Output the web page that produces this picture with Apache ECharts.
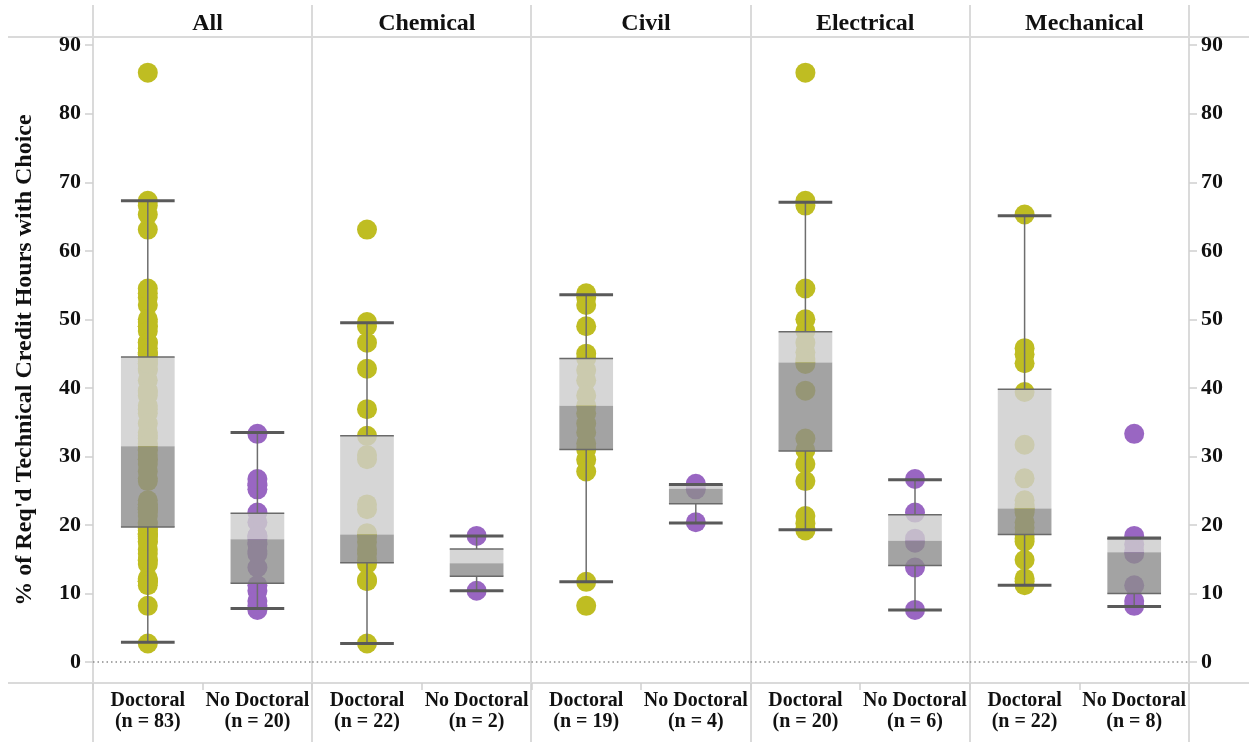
<!DOCTYPE html>
<html><head><meta charset="utf-8">
<script src="https://cdn.jsdelivr.net/npm/echarts@6/dist/echarts.min.js"></script>
<style>html,body{margin:0;padding:0;background:#fff}#c{width:1249px;height:742px}</style>
</head><body><div id="c"></div>
<script>
// ---- data ----
const panels = ['All', 'Chemical', 'Civil', 'Electrical', 'Mechanical'];
const groups = ['Doctoral', 'No Doctoral'];
const nDoctoral = [83, 22, 19, 20, 22];
const nNoDoctoral = [20, 2, 4, 6, 8];
const yTicks = [0, 10, 20, 30, 40, 50, 60, 70, 80, 90];
const yTitle = "% of Req'd Technical Credit Hours with Choice";

const chemDoc = [63.1, 49.6, 49.0, 46.6, 42.8, 36.9, 33.0, 30.2, 29.6, 23.0, 22.3, 18.8, 18.6, 18.3, 17.5, 16.4, 15.8, 14.8, 14.3, 12.0, 11.8, 2.7];
const chemNo = [18.4, 10.4];
const civilDoc = [53.8, 53.2, 52.1, 49.0, 45.0, 44.3, 42.6, 41.1, 38.9, 37.4, 36.3, 34.8, 33.5, 31.9, 31.0, 29.5, 27.8, 11.7, 8.2];
const civilNo = [26.0, 25.8, 25.2, 20.4];
const elecDoc = [86.0, 67.3, 66.6, 54.5, 50.0, 48.3, 46.6, 45.2, 44.2, 43.8, 43.5, 39.6, 32.6, 30.9, 28.9, 26.4, 21.3, 20.2, 19.5, 19.2];
const elecNo = [26.7, 21.8, 18.0, 17.4, 13.8, 7.6];
const mechDoc = [65.3, 45.8, 44.9, 43.6, 39.4, 31.7, 26.8, 23.6, 23.0, 22.6, 22.4, 22.2, 21.8, 20.4, 19.6, 18.6, 18.0, 17.6, 14.9, 12.2, 11.8, 11.2];
const mechNo = [33.3, 18.4, 17.2, 16.2, 15.8, 11.2, 8.9, 8.2];
const allDoc = [].concat(chemDoc, civilDoc, elecDoc, mechDoc);
const allNo = [].concat(chemNo, civilNo, elecNo, mechNo);

// box stats: [lower whisker, Q1, median, Q3, upper whisker]
const allDocBox = [2.9, 19.7, 31.5, 44.5, 67.3];
const allNoBox = [7.8, 11.5, 17.9, 21.7, 33.5];
const chemDocBox = [2.7, 14.5, 18.6, 33.0, 49.5];
const chemNoBox = [10.4, 12.5, 14.4, 16.5, 18.4];
const civilDocBox = [11.7, 31.0, 37.4, 44.3, 53.6];
const civilNoBox = [20.3, 23.1, 25.3, 25.8, 25.9];
const elecDocBox = [19.3, 30.8, 43.7, 48.2, 67.1];
const elecNoBox = [7.6, 14.1, 17.7, 21.5, 26.6];
const mechDocBox = [11.2, 18.6, 22.4, 39.8, 65.1];
const mechNoBox = [8.1, 10.0, 16.0, 18.0, 18.1];

const docPoints = [allDoc, chemDoc, civilDoc, elecDoc, mechDoc];
const noPoints = [allNo, chemNo, civilNo, elecNo, mechNo];
const docBoxes = [allDocBox, chemDocBox, civilDocBox, elecDocBox, mechDocBox];
const noBoxes = [allNoBox, chemNoBox, civilNoBox, elecNoBox, mechNoBox];

// ---- style / layout ----
const W = 1249, H = 742;
const plotL = 93, plotR = 1189, plotT = 37, plotB = 683;
const pw = (plotR - plotL) / panels.length;
const FONT = '"Liberation Serif", "Times New Roman", serif';
const TXT = '#111111';
const DOC_C = '#bfbd22';
const NO_C = '#9966c2';
const FRAME = '#dadada';

function renderBox(params, api) {
  const x = api.value(0);
  const pLow = api.coord([x, api.value(1)]);
  const pQ1 = api.coord([x, api.value(2)]);
  const pMed = api.coord([x, api.value(3)]);
  const pQ3 = api.coord([x, api.value(4)]);
  const pHigh = api.coord([x, api.value(5)]);
  const bw = api.size([1, 0])[0];
  const hw = bw * 0.245;
  const cx = pMed[0];
  const wl = {stroke: '#6e6e6e', lineWidth: 1.5};
  const el = {stroke: '#6a6a6a', lineWidth: 1.5};
  const cl = {stroke: '#5a5a5a', lineWidth: 3};
  return {type: 'group', children: [
    {type: 'line', shape: {x1: cx, y1: pHigh[1], x2: cx, y2: pQ3[1]}, style: wl},
    {type: 'line', shape: {x1: cx, y1: pQ1[1], x2: cx, y2: pLow[1]}, style: wl},
    {type: 'rect', shape: {x: cx - hw, y: pQ3[1], width: 2 * hw, height: pMed[1] - pQ3[1]}, style: {fill: 'rgba(205,205,205,0.82)'}},
    {type: 'rect', shape: {x: cx - hw, y: pMed[1], width: 2 * hw, height: pQ1[1] - pMed[1]}, style: {fill: 'rgba(140,140,140,0.8)'}},
    {type: 'line', shape: {x1: cx - hw, y1: pQ3[1], x2: cx + hw, y2: pQ3[1]}, style: el},
    {type: 'line', shape: {x1: cx - hw, y1: pQ1[1], x2: cx + hw, y2: pQ1[1]}, style: el},
    {type: 'line', shape: {x1: cx - hw, y1: pHigh[1], x2: cx + hw, y2: pHigh[1]}, style: cl},
    {type: 'line', shape: {x1: cx - hw, y1: pLow[1], x2: cx + hw, y2: pLow[1]}, style: cl}
  ]};
}

const grids = [], xAxes = [], yAxes = [], series = [], titles = [];
panels.forEach((p, i) => {
  const left = plotL + i * pw;
  grids.push({left: left, width: pw, top: plotT, height: plotB - plotT, containLabel: false});
  titles.push({text: p, left: left + pw / 2, top: 7, textAlign: 'center',
    textStyle: {fontFamily: FONT, fontWeight: 'bold', fontSize: 24, color: TXT}});
  xAxes.push({type: 'category', gridIndex: i, position: 'bottom',
    data: [groups[0] + '\n(n = ' + nDoctoral[i] + ')', groups[1] + '\n(n = ' + nNoDoctoral[i] + ')'],
    axisLine: {show: false, onZero: false},
    axisTick: {show: true, length: 7, lineStyle: {color: '#cfcfcf', width: 1.5}},
    axisLabel: {fontFamily: FONT, fontWeight: 'bold', fontSize: 20, lineHeight: 21, color: TXT, margin: 7, interval: 0},
    splitLine: {show: false}});
  const showY = (i === 0 || i === panels.length - 1);
  yAxes.push({type: 'value', gridIndex: i, min: -3.06, max: 91.2,
    position: i === panels.length - 1 ? 'right' : 'left',
    name: i === 0 ? yTitle : '', nameLocation: 'middle', nameGap: 56,
    nameTextStyle: {fontFamily: FONT, fontWeight: 'bold', fontSize: 24, color: TXT},
    axisLine: {show: false},
    splitLine: {show: false},
    axisTick: {show: showY, length: 8, customValues: yTicks, lineStyle: {color: '#cfcfcf', width: 1.5}},
    axisLabel: {show: showY, customValues: yTicks, margin: 12, fontFamily: FONT, fontWeight: 'bold', fontSize: 22, color: TXT}});
  series.push({type: 'scatter', xAxisIndex: i, yAxisIndex: i, symbolSize: 20, z: 2,
    itemStyle: {color: DOC_C, opacity: 1},
    data: docPoints[i].map(v => [0, v]), silent: true,
    markLine: {silent: true, symbol: 'none', label: {show: false},
      lineStyle: {color: '#8c8c8c', type: [1.5, 3], width: 1.5}, data: [{yAxis: 0}]}});
  series.push({type: 'scatter', xAxisIndex: i, yAxisIndex: i, symbolSize: 20, z: 2,
    itemStyle: {color: NO_C, opacity: 1},
    data: noPoints[i].map(v => [1, v]), silent: true});
  series.push({type: 'custom', xAxisIndex: i, yAxisIndex: i, z: 5, silent: true,
    renderItem: renderBox, encode: {x: 0, y: [1, 2, 3, 4, 5]},
    data: [[0].concat(docBoxes[i]), [1].concat(noBoxes[i])]});
});

const graphics = [];
for (let k = 0; k <= panels.length; k++) {
  const x = Math.round(plotL + k * pw);
  graphics.push({type: 'line', shape: {x1: x, y1: 5, x2: x, y2: H}, style: {stroke: FRAME, lineWidth: 2}, z: 0, silent: true});
}
graphics.push({type: 'line', shape: {x1: 8, y1: plotT, x2: W, y2: plotT}, style: {stroke: FRAME, lineWidth: 2}, z: 0, silent: true});
graphics.push({type: 'line', shape: {x1: 8, y1: plotB, x2: W, y2: plotB}, style: {stroke: FRAME, lineWidth: 2}, z: 0, silent: true});

const chart = echarts.init(document.getElementById('c'), null, {renderer: 'canvas'});
chart.setOption({
  animation: false,
  backgroundColor: '#fff',
  title: titles,
  grid: grids,
  xAxis: xAxes,
  yAxis: yAxes,
  series: series,
  graphic: graphics
});
</script>
</body></html>
